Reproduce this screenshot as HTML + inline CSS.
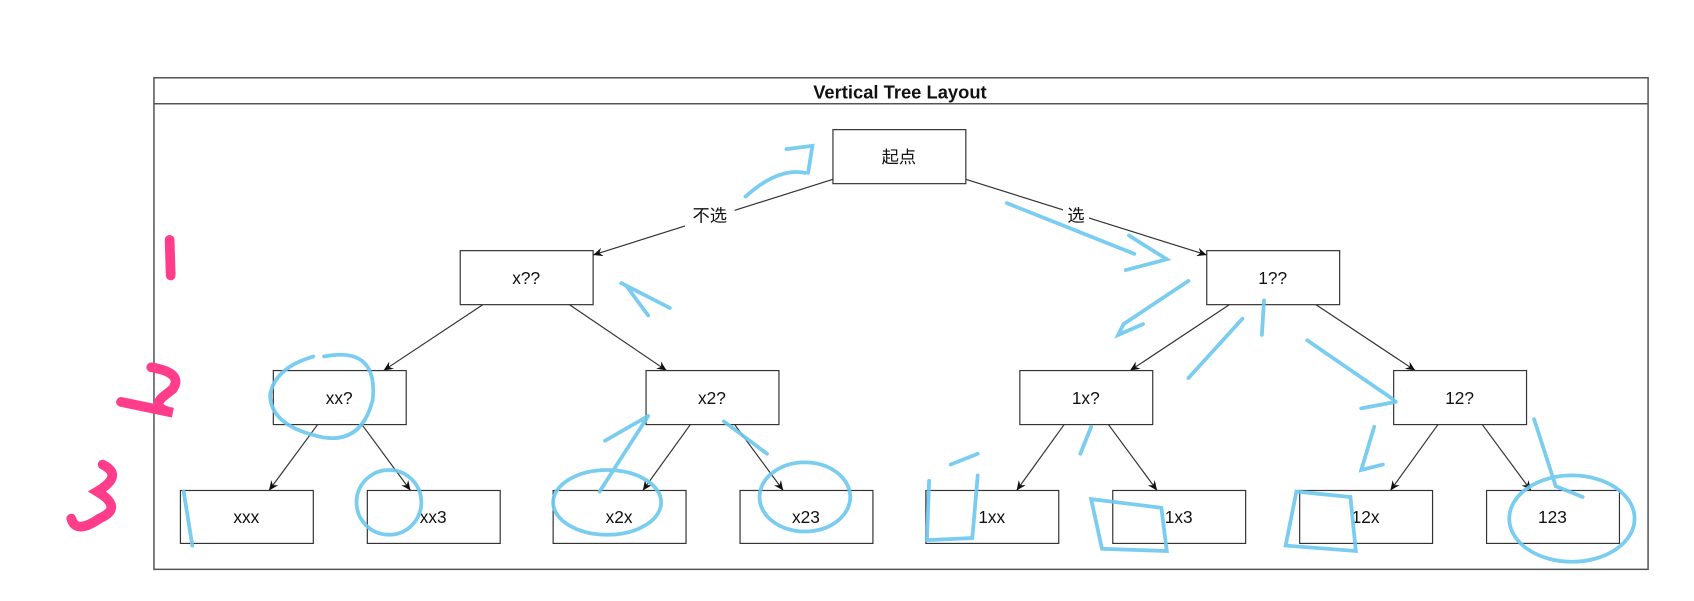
<!DOCTYPE html>
<html><head><meta charset="utf-8"><style>
html,body{margin:0;padding:0;background:#fff;width:1694px;height:601px;overflow:hidden}
text{font-family:"Liberation Sans","Noto Sans CJK SC",sans-serif;fill:#111}
</style></head><body>
<svg width="1694" height="601" viewBox="0 0 1568 556.3" xmlns="http://www.w3.org/2000/svg">
<defs><marker id="a" markerWidth="10" markerHeight="10" refX="9" refY="5" orient="auto" markerUnits="userSpaceOnUse"><path d="M0,1 L9,5 L0,9 L3,5 Z" fill="#111"/></marker></defs>
<rect x="142.5" y="72" width="1383" height="455" fill="#fff" stroke="#555" stroke-width="1.4"/>
<line x1="142" y1="96" x2="1525" y2="96" stroke="#555" stroke-width="1.4"/>
<text x="833" y="91" font-size="17" font-weight="bold" text-anchor="middle">Vertical Tree Layout</text>
<g stroke="#333" stroke-width="1.1" fill="none" marker-end="url(#a)">
<line x1="771" y1="166" x2="549" y2="236"/>
<line x1="894" y1="166" x2="1117" y2="236"/>
<line x1="447" y1="282" x2="355" y2="343"/><line x1="527" y1="282" x2="617" y2="343"/>
<line x1="1138" y1="282" x2="1046" y2="343"/><line x1="1218" y1="282" x2="1310" y2="343"/>
<line x1="294" y1="393" x2="249" y2="454"/><line x1="335" y1="393" x2="380" y2="454"/>
<line x1="639" y1="393" x2="595" y2="454"/><line x1="680" y1="393" x2="725" y2="454"/>
<line x1="985" y1="393" x2="941" y2="454"/><line x1="1026" y1="393" x2="1071" y2="454"/>
<line x1="1331" y1="393" x2="1287" y2="454"/><line x1="1372" y1="393" x2="1417" y2="454"/>
</g>
<rect x="634" y="188" width="46" height="22" fill="#fff"/>
<text x="657" y="205" font-size="16" text-anchor="middle">不选</text>
<rect x="984" y="188" width="24" height="22" fill="#fff"/>
<text x="996" y="205" font-size="16" text-anchor="middle">选</text>
<g fill="#fff" stroke="#333" stroke-width="1.1">
<rect x="771" y="120" width="123" height="50"/>
<rect x="426" y="232" width="123" height="50"/><rect x="1117" y="232" width="123" height="50"/>
<rect x="253" y="343" width="123" height="50"/><rect x="598" y="343" width="123" height="50"/>
<rect x="944" y="343" width="123" height="50"/><rect x="1290" y="343" width="123" height="50"/>
<rect x="167" y="454" width="123" height="49"/><rect x="340" y="454" width="123" height="49"/>
<rect x="512" y="454" width="123" height="49"/><rect x="685" y="454" width="123" height="49"/>
<rect x="857" y="454" width="123" height="49"/><rect x="1030" y="454" width="123" height="49"/>
<rect x="1203" y="454" width="123" height="49"/><rect x="1376" y="454" width="123" height="49"/>
</g>
<g font-size="16" text-anchor="middle">
<text x="832" y="151">起点</text>
<text x="487" y="263">x??</text><text x="1178" y="263">1??</text>
<text x="314" y="374">xx?</text><text x="659" y="374">x2?</text><text x="1005" y="374">1x?</text><text x="1351" y="374">12?</text>
<text x="228" y="484">xxx</text><text x="401" y="484">xx3</text><text x="573" y="484">x2x</text><text x="746" y="484">x23</text>
<text x="918" y="484">1xx</text><text x="1091" y="484">1x3</text><text x="1264" y="484">12x</text><text x="1437" y="484">123</text>
</g>
<g stroke="#ff3d8b" stroke-width="9" fill="none" stroke-linecap="round">
<path d="M157,222 L158,255"/>
<path d="M140,340 Q170,345 160,360 L150,368 Q140,378 160,382 L112,372"/>
<path d="M95,430 Q115,440 90,455 Q115,470 92,480 Q70,495 66,480"/>
</g>
<g stroke="#6cc8ee" stroke-width="3.5" fill="none" stroke-linecap="round" opacity="0.9">
<path d="M728,138 L752,135 L748,160 M690,182 Q720,155 745,160"/>
<path d="M932,188 L1050,235 M1045,218 L1080,240 L1042,250"/>
<path d="M580,265 L600,292 M575,262 L620,285"/>
<path d="M1100,260 L1040,300 L1035,310 L1058,300"/>
<path d="M1170,278 L1168,310 M1150,295 L1100,350"/>
<path d="M1210,315 L1290,370 M1260,378 L1292,372"/>
<path d="M300,330 Q350,320 345,370 Q335,410 300,405 Q250,395 250,365 Q255,340 290,330"/>
<path d="M560,408 L600,385 M600,385 L555,455 M670,390 L710,420"/>
<ellipse cx="745" cy="460" rx="42" ry="32"/>
<ellipse cx="562" cy="465" rx="50" ry="30"/>
<ellipse cx="360" cy="465" rx="30" ry="30"/>
<path d="M170,455 L178,505"/>
<path d="M860,445 L858,500 L900,498 L905,440 M880,430 L905,420"/>
<path d="M1010,462 L1075,470 L1080,510 L1020,508 Z M1000,420 L1010,395"/>
<path d="M1200,455 L1250,460 L1255,510 L1190,505 Z"/>
<ellipse cx="1455" cy="480" rx="58" ry="40"/>
<path d="M1272,395 L1260,435 L1280,430 M1420,388 L1440,450 L1465,460"/>
</g>
</svg>
</body></html>
